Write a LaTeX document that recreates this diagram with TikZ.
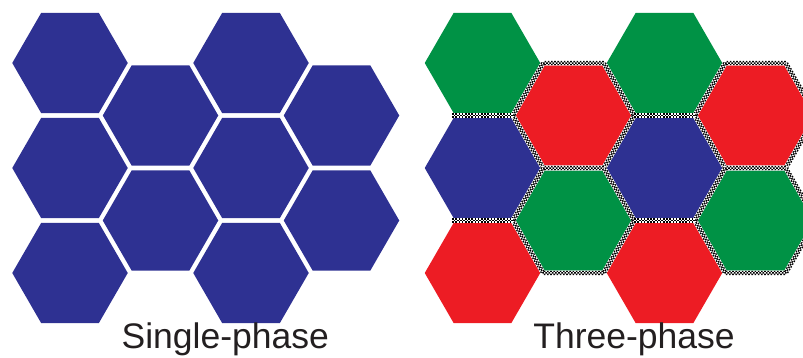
\documentclass[tikz,border=0pt]{standalone}
\usepackage{fontspec}
\setmainfont{Liberation Sans}
\usepackage{xcolor}
\definecolor{PhaseBlue}{RGB}{46,49,146}
\definecolor{PhaseGreen}{RGB}{0,146,69}
\definecolor{PhaseRed}{RGB}{237,28,36}
\definecolor{LabelInk}{RGB}{35,31,32}
\usepackage{tikz}
\usetikzlibrary{shapes.geometric}

\begin{document}
\begin{tikzpicture}[x=1pt,y=-1pt,
                    hexcell/.style={regular polygon,regular polygon sides=6,
                      minimum size=115.5pt,inner sep=0pt,outer sep=0pt,draw=none},
                    caption/.style={anchor=base,inner sep=0pt,text=LabelInk,
                      font=\fontsize{35.5}{40}\selectfont}]
  \tikzstyle{seam}=[draw=black,line width=4.4pt,dash pattern=on 1.6pt off 1.6pt,
      preaction={draw=white,line width=4.8pt,solid},
      postaction={draw=white,line width=1.5pt,dash pattern=on 1.6pt off 1.6pt},
      postaction={draw=black,line width=1.5pt,dash pattern=on 1.6pt off 1.6pt,dash phase=1.6pt}]
  \tikzstyle{seamring}=[seam,regular polygon,regular polygon sides=6,
      minimum size=121.2pt,inner sep=0pt,fill=none]

  \useasboundingbox (0,0) rectangle (803,358);
  \clip (0,0) rectangle (803,358);

  % single-phase
  \node[hexcell,fill=PhaseBlue] (s11) at (70,63)      {};
  \node[hexcell,fill=PhaseBlue] (s12) at (70,168)     {};
  \node[hexcell,fill=PhaseBlue] (s13) at (70,273)     {};
  \node[hexcell,fill=PhaseBlue] (s21) at (160.5,115.5) {};
  \node[hexcell,fill=PhaseBlue] (s22) at (160.5,220.5) {};
  \node[hexcell,fill=PhaseBlue] (s31) at (251,63)     {};
  \node[hexcell,fill=PhaseBlue] (s32) at (251,168)    {};
  \node[hexcell,fill=PhaseBlue] (s33) at (251,273)    {};
  \node[hexcell,fill=PhaseBlue] (s41) at (341.5,115.5) {};
  \node[hexcell,fill=PhaseBlue] (s42) at (341.5,220.5) {};

  % three-phase
  \node[hexcell,fill=PhaseGreen] (t11) at (482.5,63)    {};
  \node[hexcell,fill=PhaseBlue]  (t12) at (482.5,168)   {};
  \node[hexcell,fill=PhaseRed]   (t13) at (482.5,273)   {};
  \node[hexcell,fill=PhaseRed]   (t21) at (573.5,115.5) {};
  \node[hexcell,fill=PhaseGreen] (t22) at (573.5,220.5) {};
  \node[hexcell,fill=PhaseGreen] (t31) at (664.5,63)    {};
  \node[hexcell,fill=PhaseBlue]  (t32) at (664.5,168)   {};
  \node[hexcell,fill=PhaseRed]   (t33) at (664.5,273)   {};
  \node[hexcell,fill=PhaseRed]   (t41) at (755.5,115.5) {};
  \node[hexcell,fill=PhaseGreen] (t42) at (755.5,220.5) {};

  % seams between the phases
  \node[seamring] (t21ring) at (t21) {};
  \node[seamring] (t22ring) at (t22) {};
  \node[seamring] (t41ring) at (t41) {};
  \node[seamring] (t42ring) at (t42) {};
  \draw[seam] ([xshift=-30.3pt,yshift=-2.5pt]t11.south) -- ++(60.6,0);
  \draw[seam] ([xshift=-30.3pt,yshift=-2.5pt]t12.south) -- ++(60.6,0);
  \draw[seam] ([xshift=-30.3pt,yshift=-2.5pt]t31.south) -- ++(60.6,0);
  \draw[seam] ([xshift=-30.3pt,yshift=-2.5pt]t32.south) -- ++(60.6,0);

  \node[caption] (singlelabel) at (225.3,348.3) {Single-phase};
  \node[caption] (threelabel)  at (634,348.3)   {Three-phase};
\end{tikzpicture}
\end{document}
